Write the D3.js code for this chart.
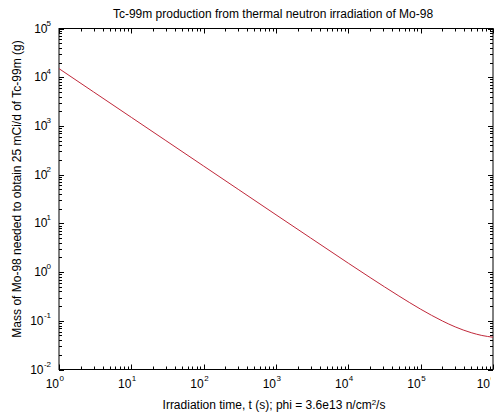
<!DOCTYPE html>
<html><head><meta charset="utf-8">
<script src="https://cdn.jsdelivr.net/npm/d3@7"></script>
<style>
html,body{margin:0;padding:0;background:#fff;overflow:hidden}
svg{display:block}
text{font-family:"Liberation Sans",Arial,sans-serif;fill:#000}
</style></head>
<body><svg id="c" width="498" height="419"></svg>
<script>
// Data
const timeSeconds = [1, 3, 10, 30, 100, 300, 1000, 3000, 10000, 20000, 50000, 100000, 200000, 300000, 500000, 700000, 1000000];
const massGrams   = [15000, 5000, 1500, 500, 150, 50, 15.0, 5.03, 1.52, 0.773, 0.323, 0.173, 0.099, 0.075, 0.057, 0.050, 0.046];
const xTickExps = [0, 1, 2, 3, 4, 5, 6];
const yTickExps = [-2, -1, 0, 1, 2, 3, 4, 5];
const titleText = "Tc-99m production from thermal neutron irradiation of Mo-98";
const xLabelText = "Irradiation time, t (s); phi = 3.6e13 n/cm";
const yLabelText = "Mass of Mo-98 needed to obtain 25 mCi/d of Tc-99m (g)";

const svg = d3.select("#c");
const L = 59, R = 493, T = 28.5, B = 369.5;
const x = d3.scaleLog().domain([1, 1e6]).range([L, R]);
const y = d3.scaleLog().domain([1e-2, 1e5]).range([B, T]);

// frame
svg.append("rect").attr("x", L).attr("y", T).attr("width", R - L).attr("height", B - T)
  .attr("fill", "#fff").attr("stroke", "#000").attr("stroke-width", 1);

// ticks
const majLen = 5, minLen = 3;
function ticksFor(lo, hi) {
  const out = [];
  for (let e = lo; e <= hi; e++) {
    out.push({v: Math.pow(10, e), major: true});
    if (e < hi) for (let k = 2; k <= 9; k++) out.push({v: k * Math.pow(10, e), major: false});
  }
  return out;
}
const g = svg.append("g").attr("stroke", "#000").attr("stroke-width", 1);
ticksFor(0, 6).forEach(t => {
  const px = Math.round(x(t.v)) + 0.5, len = t.major ? majLen : minLen;
  g.append("line").attr("x1", px).attr("x2", px).attr("y1", B).attr("y2", B - len);
  g.append("line").attr("x1", px).attr("x2", px).attr("y1", T).attr("y2", T + len);
});
ticksFor(-2, 5).forEach(t => {
  const py = Math.round(y(t.v)) + 0.5, len = t.major ? majLen : minLen;
  g.append("line").attr("y1", py).attr("y2", py).attr("x1", L).attr("x2", L + len);
  g.append("line").attr("y1", py).attr("y2", py).attr("x1", R).attr("x2", R - len);
});

// curve
const line = d3.line().x((d, i) => x(timeSeconds[i])).y(d => y(d)).curve(d3.curveMonotoneX);
svg.append("path").datum(massGrams).attr("d", line)
  .attr("fill", "none").attr("stroke", "#c0283a").attr("stroke-width", 1);

// tick labels
const tickFont = "'Liberation Sans Narrow','Liberation Sans',Arial,sans-serif";
svg.append("clipPath").attr("id", "lc").append("rect").attr("x", 0).attr("y", 0).attr("width", 491).attr("height", 419);
const xl = svg.append("g").attr("clip-path", "url(#lc)");
xTickExps.forEach(e => {
  const px = x(Math.pow(10, e)) - (e === 6 ? 3 : 0);
  xl.append("text").attr("x", px).attr("y", 388).attr("text-anchor", "end")
    .style("font-family", tickFont).style("font-size", "12px").text("10");
  xl.append("text").attr("x", px + 0.5).attr("y", 381).attr("text-anchor", "start")
    .style("font-family", tickFont).style("font-size", "8px").text(String(e));
});
yTickExps.forEach(e => {
  const py = y(Math.pow(10, e));
  const ew = e < 0 ? 7.5 : 3.5;
  svg.append("text").attr("x", 51 - ew).attr("y", py + 4).attr("text-anchor", "end")
    .style("font-family", tickFont).style("font-size", "12px").text("10");
  svg.append("text").attr("x", 51).attr("y", py - 3).attr("text-anchor", "end")
    .style("font-family", tickFont).style("font-size", "8px").text(String(e));
});

// title
svg.append("text").attr("x", 273).attr("y", 18).attr("text-anchor", "middle")
  .style("font-size", "12px").text(titleText);
// x label
const xlab = svg.append("text").attr("x", 274).attr("y", 409).attr("text-anchor", "middle")
  .style("font-size", "12px");
xlab.append("tspan").text(xLabelText);
xlab.append("tspan").attr("dy", -4).style("font-size", "8px").text("2");
xlab.append("tspan").attr("dy", 4).text("/s");
// y label
svg.append("text").attr("transform", "translate(21,189) rotate(-90)").attr("text-anchor", "middle")
  .style("font-size", "12px").text(yLabelText);
</script>
</body></html>
